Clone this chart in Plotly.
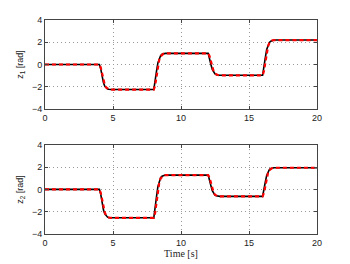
import plotly.graph_objects as go

# time samples (s)
t = [0, 4.0, 4.1, 4.2, 4.3, 4.4, 4.5, 4.6, 4.7, 4.85, 8.0, 8.1, 8.2, 8.3, 8.4, 8.5, 8.6, 8.7, 8.85,
     12.0, 12.1, 12.2, 12.3, 12.4, 12.5, 12.6, 12.7, 12.85,
     16.0, 16.1, 16.2, 16.3, 16.4, 16.5, 16.6, 16.7, 16.85, 20.0]

# z1 response (black) and reference (red dashed)
z1_black = [0, 0, -0.4, -1.1, -1.65, -1.95, -2.12, -2.2, -2.23, -2.25,
            -2.25, -1.6, -0.6, 0.15, 0.58, 0.8, 0.92, 0.97, 1.0,
            1.0, 0.6, 0.0, -0.45, -0.72, -0.85, -0.92, -0.95, -0.97,
            -0.97, -0.33, 0.62, 1.35, 1.77, 1.98, 2.1, 2.16, 2.2, 2.2]
z1_red = [0, 0, -0.27, -0.9, -1.46, -1.85, -2.07, -2.17, -2.22, -2.25,
          -2.25, -1.86, -0.95, -0.14, 0.42, 0.74, 0.89, 0.96, 1.0,
          1.0, 0.76, 0.21, -0.28, -0.62, -0.81, -0.9, -0.94, -0.97,
          -0.97, -0.59, 0.3, 1.09, 1.63, 1.95, 2.09, 2.16, 2.2, 2.2]

# z2 response (black) and reference (red dashed)
z2_black = [0, 0, -0.45, -1.25, -1.85, -2.2, -2.4, -2.49, -2.53, -2.55,
            -2.55, -1.78, -0.64, 0.25, 0.78, 1.05, 1.18, 1.24, 1.28,
            1.28, 0.9, 0.33, -0.11, -0.37, -0.51, -0.58, -0.61, -0.63,
            -0.63, -0.12, 0.66, 1.25, 1.6, 1.78, 1.87, 1.91, 1.94, 1.94]
z2_red = [0, 0, -0.31, -1.02, -1.66, -2.09, -2.35, -2.46, -2.52, -2.55,
          -2.55, -2.09, -1.02, -0.06, 0.59, 0.97, 1.14, 1.23, 1.28,
          1.28, 1.05, 0.52, 0.04, -0.29, -0.48, -0.57, -0.61, -0.63,
          -0.63, -0.32, 0.41, 1.04, 1.48, 1.73, 1.85, 1.9, 1.94, 1.94]

x_ticks = [0, 5, 10, 15, 20]
y_ticks = [-4, -2, 0, 2, 4]

fig = go.Figure()
for ya, xa, blk, red in [("y", "x", z1_black, z1_red), ("y2", "x2", z2_black, z2_red)]:
    fig.add_trace(go.Scatter(x=t, y=blk, mode="lines", xaxis=xa, yaxis=ya,
                             line=dict(color="black", width=1.6),
                             showlegend=False))
    fig.add_trace(go.Scatter(x=t, y=red, mode="lines", xaxis=xa, yaxis=ya,
                             line=dict(color="#ff0000", width=2.2, dash="4px,3px"),
                             showlegend=False))

tickfont = dict(family="Liberation Sans", size=9, color="#222")
grid = dict(showgrid=True, gridcolor="#999999", griddash="1px,3px", gridwidth=1,
            showline=True, linecolor="#444", linewidth=1, mirror="allticks",
            ticks="inside", ticklen=3, tickcolor="#444", zeroline=False,
            tickfont=tickfont, automargin=False)

# the page body has an 8px default margin, so margins are offset accordingly
fig.update_layout(
    width=350, height=264, margin=dict(l=37, r=41, t=12, b=38),
    paper_bgcolor="white", plot_bgcolor="white",
    xaxis=dict(domain=[0, 1], anchor="y", range=[0, 20], tickvals=x_ticks, **grid),
    yaxis=dict(domain=[0.584, 1], anchor="x", range=[-4, 4], tickvals=y_ticks,
               title=dict(text="z<sub>1</sub> [rad]", standoff=6,
                          font=dict(family="Liberation Sans", size=9, color="#222")),
               **grid),
    xaxis2=dict(domain=[0, 1], anchor="y2", range=[0, 20], tickvals=x_ticks,
                title=dict(text="Time [s]", standoff=1,
                           font=dict(family="Liberation Serif", size=10, color="#222")),
                **grid),
    yaxis2=dict(domain=[0, 0.417], anchor="x2", range=[-4, 4], tickvals=y_ticks,
                title=dict(text="z<sub>2</sub> [rad]", standoff=6,
                           font=dict(family="Liberation Sans", size=9, color="#222")),
                **grid),
)

fig.write_html("out.html")
